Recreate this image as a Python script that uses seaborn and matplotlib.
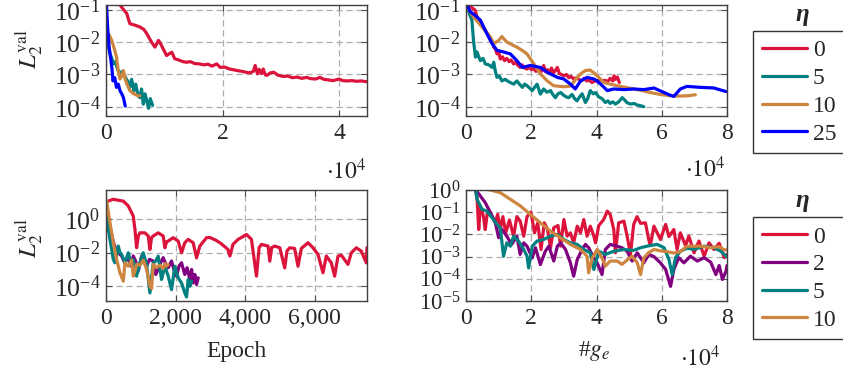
import matplotlib
matplotlib.use("Agg")
import matplotlib.pyplot as plt
from matplotlib.lines import Line2D
from matplotlib.ticker import LogLocator, NullLocator, FuncFormatter, NullFormatter
import pandas as pd
import seaborn as sns
import numpy as np

# ---- data: x in units of 1e4 (top row, bottom right) or epochs (bottom left),
# ---- y given as log10 of L2 validation loss
colors = {"0": "#DC143C", "2": "#800080", "5": "#008080", "10": "#CD853F", "25": "#0000FF"}

# top left (epochs, 1e4)
tl_x0 = [0.05, 0.24, 0.3, 0.355, 0.41, 0.5, 0.58, 0.65, 0.7, 0.78, 0.84, 0.9, 0.94, 0.98, 1.04, 1.09, 1.13, 1.18,
         1.25, 1.32, 1.38, 1.45, 1.52, 1.6, 1.68, 1.75, 1.82, 1.9, 1.96, 2.04, 2.12, 2.18, 2.26, 2.33, 2.4, 2.47, 2.53,
         2.56, 2.6, 2.63, 2.67, 2.7, 2.73, 2.76, 2.82, 2.88, 2.95, 3.04, 3.12, 3.2, 3.28, 3.36, 3.44, 3.52, 3.6, 3.67,
         3.74, 3.82, 3.9, 3.96, 4.0, 4.06, 4.14, 4.22, 4.3, 4.38, 4.45, 4.5]
tl_y0 = [-0.3, -0.84, -0.98, -1.1, -1.42, -1.47, -1.52, -1.6, -1.73, -1.99, -2.15, -1.94, -2.05, -2.2, -2.41, -2.35,
         -2.31, -2.51, -2.55, -2.6, -2.62, -2.6, -2.66, -2.67, -2.7, -2.68, -2.74, -2.67, -2.78, -2.77, -2.83, -2.85,
         -2.88, -2.9, -2.93, -2.95, -2.9, -2.72, -2.98, -2.84, -2.97, -2.83, -3.0, -3.03, -2.95, -2.93, -3.02, -3.06,
         -3.05, -3.1, -3.08, -3.12, -3.09, -3.13, -3.14, -3.09, -3.15, -3.17, -3.19, -3.16, -3.14, -3.19, -3.2, -3.19,
         -3.21, -3.2, -3.22, -3.22]
tl_x5 = [0.0, 0.03, 0.06, 0.1, 0.125, 0.16, 0.2, 0.24, 0.28, 0.33, 0.37, 0.41, 0.44, 0.48, 0.51, 0.55, 0.58, 0.61,
         0.64, 0.67, 0.7, 0.73, 0.76, 0.8]
tl_y5 = [-1.6, -2.0, -2.3, -2.5, -2.67, -2.6, -2.85, -2.98, -2.9, -3.08, -3.2, -3.4, -3.15, -3.5, -3.3, -3.65, -3.72,
         -3.45, -3.92, -3.6, -3.82, -4.05, -3.75, -3.96]
tl_x10 = [0.05, 0.1, 0.15, 0.18, 0.21, 0.24, 0.27, 0.3, 0.33, 0.36, 0.41, 0.46, 0.5, 0.55, 0.58]
tl_y10 = [-1.75, -1.95, -2.25, -2.45, -2.88, -3.14, -3.05, -2.88, -3.15, -3.3, -3.5, -3.58, -3.62, -3.66, -3.66]
tl_x25 = [0.0, 0.01, 0.03, 0.05, 0.08, 0.1, 0.12, 0.15, 0.18, 0.21, 0.24, 0.27, 0.3, 0.33]
tl_y25 = [-0.6, -0.9, -1.6, -2.1, -2.5, -2.78, -3.2, -3.1, -3.4, -3.3, -3.5, -3.6, -3.72, -3.98]

# top right (#g_e, 1e4)
tr_x0 = [0.0, 0.05, 0.15, 0.28, 0.36, 0.44, 0.52, 0.59, 0.67, 0.75, 0.8, 0.85, 0.9, 0.95, 1.0, 1.05, 1.12, 1.18,
         1.25, 1.32, 1.38, 1.46, 1.52, 1.58, 1.66, 1.72, 1.8, 1.87, 1.94, 2.0, 2.08, 2.14, 2.2, 2.26, 2.32, 2.38, 2.44,
         2.5, 2.56, 2.62, 2.68, 2.74, 2.8, 2.86, 2.93, 3.0, 3.08, 3.15, 3.22, 3.3, 3.38, 3.46, 3.54, 3.62, 3.7, 3.78,
         3.86, 3.94, 4.02, 4.1, 4.18, 4.26, 4.34, 4.42, 4.5, 4.54, 4.58, 4.64, 4.7]
tr_y0 = [-0.5, -0.84, -0.9, -1.0, -1.3, -1.42, -1.5, -1.63, -1.75, -1.94, -2.0, -2.15, -2.2, -2.36, -2.3, -2.52,
         -2.45, -2.57, -2.5, -2.6, -2.55, -2.67, -2.62, -2.7, -2.78, -2.7, -2.8, -2.83, -2.75, -2.85, -2.82, -2.9,
         -2.88, -2.8, -2.9, -2.72, -2.92, -2.85, -2.95, -2.8, -2.95, -2.88, -2.78, -2.97, -3.0, -3.04, -3.0, -3.1,
         -3.06, -3.14, -3.1, -3.15, -3.2, -3.12, -3.2, -3.18, -3.25, -3.2, -3.22, -3.15, -3.2, -3.18, -3.22, -3.12,
         -3.2, -3.04, -3.15, -3.08, -3.25]
tr_x5 = [0.0, 0.03, 0.1, 0.18, 0.23, 0.29, 0.34, 0.39, 0.44, 0.52, 0.59, 0.7, 0.8, 0.85, 0.9, 0.95, 1.02, 1.1, 1.2,
         1.3, 1.36, 1.46, 1.56, 1.64, 1.73, 1.8, 1.87, 1.95, 2.03, 2.1, 2.18, 2.28, 2.38, 2.48, 2.59, 2.66, 2.74,
         2.82, 2.9, 3.0, 3.08, 3.15, 3.25, 3.33, 3.4, 3.48, 3.56, 3.66, 3.73, 3.81, 3.9, 3.97, 4.07, 4.17, 4.27, 4.35,
         4.42, 4.5, 4.58, 4.68, 4.79, 4.87, 4.94, 5.05, 5.15, 5.25, 5.35, 5.45]
tr_y5 = [-0.7, -0.9, -1.1, -1.31, -1.94, -2.46, -2.3, -2.45, -2.57, -2.5, -2.67, -2.7, -2.78, -2.62, -2.9, -3.09,
         -3.05, -3.2, -3.15, -3.22, -3.25, -3.3, -3.2, -3.3, -3.4, -3.3, -3.35, -3.42, -3.5, -3.4, -3.3, -3.61, -3.45,
         -3.55, -3.5, -3.62, -3.72, -3.6, -3.56, -3.65, -3.7, -3.72, -3.62, -3.75, -3.82, -3.7, -3.6, -3.87, -3.75,
         -3.5, -3.6, -3.56, -3.7, -3.75, -3.87, -3.82, -3.9, -3.85, -3.92, -3.85, -3.72, -3.8, -3.88, -3.92, -3.9,
         -3.95, -3.97, -4.0]
tr_x10 = [0.0, 0.03, 0.23, 0.49, 0.75, 0.85, 1.0, 1.1, 1.25, 1.4, 1.56, 1.72, 1.87, 2.08, 2.28, 2.49, 2.69, 3.0,
          3.2, 3.41, 3.55, 3.66, 3.8, 3.92, 4.02, 4.23, 4.43, 4.63, 4.9, 5.14, 5.4, 5.65, 5.95, 6.27, 6.57, 6.8, 7.03]
tr_y10 = [-0.75, -0.9, -1.21, -1.52, -1.84, -2.04, -1.94, -1.82, -1.99, -2.07, -2.15, -2.25, -2.36, -2.67, -2.98,
          -3.2, -3.35, -3.38, -3.36, -3.09, -2.95, -2.88, -2.86, -2.95, -3.04, -3.25, -3.3, -3.35, -3.4, -3.45, -3.5,
          -3.56, -3.62, -3.66, -3.67, -3.66, -3.63]
tr_x25 = [0.0, 0.03, 0.13, 0.28, 0.44, 0.64, 0.8, 0.95, 1.15, 1.36, 1.56, 1.73, 1.97, 2.28, 2.49, 2.8, 3.0, 3.2,
          3.35, 3.51, 3.71, 3.92, 4.02, 4.18, 4.33, 4.53, 4.84, 5.14, 5.45, 5.76, 6.07, 6.25, 6.37, 6.57, 6.77, 7.19,
          7.6, 7.97]
tr_y25 = [-0.7, -0.84, -1.05, -1.16, -1.31, -1.73, -2.04, -2.25, -2.3, -2.36, -2.57, -2.78, -2.72, -2.78, -2.93,
          -3.09, -3.14, -3.3, -3.45, -3.2, -3.09, -3.14, -3.2, -3.35, -3.5, -3.45, -3.47, -3.45, -3.47, -3.42, -3.56,
          -3.64, -3.68, -3.45, -3.37, -3.4, -3.42, -3.53]

# bottom left (epochs)
bl_x0 = [0, 66, 210, 350, 496, 640, 783, 832, 880, 930, 975, 1118, 1214, 1262, 1310, 1357, 1500, 1644, 1692, 1740,
         1787, 1931, 2074, 2172, 2265, 2361, 2505, 2602, 2696, 2888, 2984, 3150, 3300, 3500, 3560, 3650, 3797, 4037,
         4180, 4324, 4400, 4467, 4658, 4706, 4760, 4850, 4994, 5136, 5200, 5280, 5420, 5518, 5613, 5805, 5948, 6092,
         6235, 6331, 6474, 6571, 6666, 6762, 6953, 7049, 7193, 7336, 7480, 7500]
bl_y0 = [1.0, 1.07, 1.18, 1.12, 1.07, 0.78, 0.18, -0.62, -1.71, -1.0, -0.82, -0.82, -1.01, -1.81, -1.1, -1.01,
         -0.82, -1.01, -1.71, -1.35, -1.31, -1.11, -1.31, -2.01, -1.41, -1.21, -1.41, -2.31, -1.61, -1.11, -1.1, -1.25,
         -1.45, -1.8, -2.2, -1.5, -1.21, -0.92, -1.21, -3.4, -1.7, -1.51, -1.61, -2.51, -1.7, -1.61, -1.71, -2.91,
         -1.9, -1.71, -1.75, -2.81, -1.75, -1.41, -1.71, -2.11, -3.2, -2.2, -2.61, -3.4, -2.21, -2.15, -2.7, -2.01,
         -1.71, -1.91, -2.61, -1.7]
bl_x2 = [0, 100, 200, 300, 449, 540, 640, 720, 783, 850, 927, 1023, 1100, 1166, 1250, 1357, 1430, 1500, 1570, 1644,
         1720, 1787, 1883, 1950, 2026, 2100, 2170, 2265, 2330, 2409, 2460, 2505, 2553, 2600, 2650]
bl_y2 = [0.9, -0.3, -1.3, -1.9, -2.2, -2.6, -2.3, -2.8, -2.2, -2.5, -3.1, -2.2, -2.6, -2.8, -2.4, -2.5, -3.3, -3.0,
         -2.6, -2.3, -2.7, -2.9, -2.5, -3.0, -3.4, -2.8, -2.6, -3.3, -2.9, -3.6, -3.0, -3.8, -3.3, -3.9, -3.5]
bl_x5 = [0, 20, 115, 210, 258, 300, 353, 400, 449, 545, 640, 720, 783, 879, 975, 1070, 1166, 1262, 1357, 1430, 1500,
         1596, 1692, 1787, 1883, 1978, 2074, 2170, 2265, 2315, 2361, 2410, 2457]
bl_y5 = [0.3, 0.0, -1.21, -2.41, -2.6, -2.2, -1.61, -2.0, -2.1, -2.6, -2.01, -2.6, -2.41, -3.4, -2.6, -2.01, -2.7,
         -4.4, -2.6, -2.5, -2.21, -3.6, -2.81, -3.4, -4.2, -2.81, -3.5, -3.8, -4.4, -4.64, -3.6, -4.0, -3.7]
bl_x10 = [0, 20, 115, 210, 306, 402, 497, 545, 640, 736, 783, 832, 879, 975, 1070, 1166, 1262, 1310, 1357, 1450,
          1500, 1549, 1644, 1693, 1740, 1790]
bl_y10 = [1.1, 1.07, -0.22, -1.41, -2.41, -3.2, -3.7, -2.6, -2.81, -2.45, -3.4, -3.1, -2.7, -2.75, -2.45, -3.0, -4.0,
          -4.14, -2.7, -2.9, -2.81, -2.75, -2.95, -2.65, -2.81, -2.7]

# bottom right (#g_e, 1e4)
br_x0 = [0.29, 0.34, 0.39, 0.44, 0.49, 0.54, 0.59, 0.66, 0.72, 0.8, 0.9, 0.97, 1.05, 1.13, 1.22, 1.33, 1.46, 1.56,
         1.66, 1.77, 1.87, 1.99, 2.1, 2.2, 2.3, 2.4, 2.5, 2.59, 2.69, 2.82, 2.9, 3.0, 3.1, 3.2, 3.3, 3.41, 3.51, 3.61,
         3.71, 3.81, 3.92, 3.97, 4.07, 4.22, 4.33, 4.42, 4.53, 4.58, 4.68, 4.84, 4.94, 5.04, 5.14, 5.24, 5.35, 5.5,
         5.6, 5.65, 5.76, 5.96, 6.12, 6.22, 6.37, 6.47, 6.57, 6.73, 6.83, 6.99, 7.14, 7.3, 7.45, 7.6, 7.76, 7.92, 8.0]
br_y0 = [0.0, -0.4, -1.78, -0.72, -0.9, -1.25, -1.78, -0.95, -1.1, -1.2, -1.48, -1.1, -1.78, -1.2, -1.93, -1.35,
         -2.08, -1.2, -1.4, -2.08, -1.2, -1.0, -1.93, -1.48, -2.68, -1.48, -1.78, -2.6, -1.7, -1.6, -2.53, -1.33,
         -2.08, -1.93, -2.38, -1.63, -1.93, -1.33, -2.08, -1.63, -2.08, -2.38, -1.6, -1.33, -0.95, -1.1, -1.78, -2.83,
         -1.48, -1.4, -2.08, -2.9, -1.55, -1.2, -1.5, -1.48, -2.23, -2.5, -1.63, -2.23, -1.55, -2.1, -1.78, -2.68,
         -1.93, -2.5, -2.08, -2.83, -2.3, -2.98, -2.38, -2.68, -2.4, -3.05, -2.9]
br_x2 = [0.3, 0.44, 0.59, 0.75, 0.9, 1.0, 1.1, 1.25, 1.4, 1.56, 1.66, 1.77, 1.87, 2.03, 2.13, 2.28, 2.43, 2.54,
         2.69, 2.8, 2.9, 3.05, 3.2, 3.3, 3.41, 3.56, 3.66, 3.76, 3.86, 4.02, 4.17, 4.27, 4.42, 4.63, 4.78, 4.94, 5.09,
         5.25, 5.45, 5.6, 5.76, 5.96, 6.12, 6.27, 6.37, 6.52, 6.68, 6.88, 7.09, 7.3, 7.5, 7.66, 7.76, 7.86, 7.97, 8.0]
br_y2 = [0.0, -0.27, -0.57, -1.02, -1.48, -2.15, -1.78, -2.08, -2.45, -2.08, -2.9, -2.38, -2.53, -3.06, -2.6, -3.36,
         -2.76, -2.53, -3.2, -2.53, -2.38, -2.68, -3.28, -3.88, -3.13, -2.68, -2.45, -2.6, -2.9, -3.28, -3.81, -2.68,
         -2.45, -2.53, -2.6, -2.76, -3.2, -2.83, -3.28, -2.9, -3.0, -3.28, -3.58, -4.34, -3.58, -3.05, -3.28, -2.98,
         -3.2, -3.05, -3.25, -3.81, -3.4, -4.03, -3.66, -3.4]
br_x5 = [0.29, 0.34, 0.49, 0.64, 0.8, 0.95, 1.05, 1.15, 1.25, 1.36, 1.46, 1.61, 1.77, 1.87, 1.92, 2.03, 2.18, 2.38,
         2.59, 2.8, 3.0, 3.2, 3.41, 3.61, 3.81, 3.92, 4.07, 4.27, 4.53, 4.84, 5.14, 5.35, 5.55, 5.86, 6.07, 6.22, 6.32,
         6.42, 6.57, 6.78, 6.99, 7.3, 7.6, 7.81, 7.97, 8.0]
br_y5 = [0.05, -0.42, -0.87, -0.95, -1.25, -1.55, -1.7, -2.98, -2.38, -2.53, -2.08, -2.3, -2.68, -2.98, -3.51, -2.53,
         -2.3, -2.23, -2.08, -2.0, -2.23, -2.38, -2.45, -2.68, -2.83, -3.58, -2.76, -2.9, -2.76, -2.68, -2.72, -2.6,
         -2.53, -2.45, -2.6, -3.13, -3.81, -3.05, -2.76, -2.62, -2.68, -2.53, -2.6, -2.76, -2.98, -3.0]
br_x10 = [0.4, 0.75, 1.05, 1.36, 1.67, 1.97, 2.28, 2.59, 2.89, 3.2, 3.51, 3.71, 3.76, 3.86, 4.02, 4.17, 4.27, 4.42,
          4.63, 4.78, 4.94, 5.09, 5.25, 5.35, 5.45, 5.6, 5.76, 5.96, 6.17, 6.37, 6.57, 6.77, 7.19, 7.5, 7.76, 7.9, 8.0]
br_y10 = [0.08, 0.0, -0.12, -0.42, -0.72, -1.1, -1.48, -1.85, -2.15, -2.45, -2.68, -2.98, -3.73, -3.1, -2.68, -3.06,
          -3.43, -3.2, -3.2, -3.35, -3.15, -2.98, -3.28, -3.81, -3.06, -2.82, -2.68, -2.74, -2.78, -2.84, -2.78, -2.53,
          -2.53, -2.6, -2.55, -2.68, -2.71]

sns.set_theme(style="ticks")
plt.rcParams["font.family"] = ["Liberation Serif", "DejaVu Serif"]
plt.rcParams["mathtext.fontset"] = "stix"
FS = 17

W, H = 843, 373
fig = plt.figure(figsize=(W / 100, H / 100), dpi=100)


def box(l, t, r, b):
    return [l / W, 1 - b / H, (r - l) / W, (b - t) / H]


def draw(ax, series, ysize):
    frames = [pd.DataFrame({"x": xs, "loss": np.power(10.0, ys), "eta": eta}) for eta, xs, ys in series]
    df = pd.concat(frames, ignore_index=True)
    order = [s[0] for s in series]
    sns.lineplot(data=df, x="x", y="loss", hue="eta", hue_order=order, palette=colors,
                 estimator=None, sort=False, legend=False, lw=2.3, ax=ax)
    ax.set_yscale("log")
    ax.set_xlabel("")
    ax.set_ylabel("")
    ax.grid(True, which="major", ls=(0, (5, 3)), color="0.68", lw=0.9)
    ax.tick_params(which="both", direction="in", top=True, right=True, labelsize=FS, pad=5)
    ax.tick_params(axis="y", labelsize=ysize, pad=4)
    ax.tick_params(which="major", length=4, width=0.8, color="0.3")
    ax.tick_params(which="minor", length=4, width=0.8, color="0.6")
    for s in ax.spines.values():
        s.set_color("0.25")
        s.set_linewidth(1.0)


ax_tl = fig.add_axes(box(106, 5, 367, 116))
ax_tr = fig.add_axes(box(466, 5, 727, 116))
ax_bl = fig.add_axes(box(106, 190, 367, 301))
ax_br = fig.add_axes(box(466, 190, 727, 301))

draw(ax_tl, [("0", tl_x0, tl_y0), ("5", tl_x5, tl_y5), ("10", tl_x10, tl_y10), ("25", tl_x25, tl_y25)], FS + 1.5)
draw(ax_tr, [("0", tr_x0, tr_y0), ("5", tr_x5, tr_y5), ("10", tr_x10, tr_y10), ("25", tr_x25, tr_y25)], FS + 1.5)
draw(ax_bl, [("0", bl_x0, bl_y0), ("2", bl_x2, bl_y2), ("5", bl_x5, bl_y5), ("10", bl_x10, bl_y10)], FS + 1.5)
draw(ax_br, [("0", br_x0, br_y0), ("2", br_x2, br_y2), ("5", br_x5, br_y5), ("10", br_x10, br_y10)], FS - 0.5)

minor = LogLocator(base=10, subs=np.arange(2, 10))
for ax in (ax_tl, ax_tr):
    ax.set_ylim(10 ** -4.29, 10 ** -0.84)
    ax.set_yticks([1e-4, 1e-3, 1e-2, 1e-1])
    ax.yaxis.set_minor_locator(minor)
    ax.yaxis.set_minor_formatter(NullFormatter())
ax_tl.set_xlim(0, 4.48)
ax_tl.set_xticks([0, 2, 4])
ax_tr.set_xlim(0, 8)
ax_tr.set_xticks([0, 2, 4, 6, 8])

ax_bl.set_xlim(0, 7500)
ax_bl.set_xticks([0, 2000, 4000, 6000])
ax_bl.xaxis.set_major_formatter(FuncFormatter(lambda v, p: f"{v:,.0f}"))
ax_bl.set_ylim(10 ** -4.88, 10 ** 1.73)
ax_bl.set_yticks([1e-4, 1e-2, 1e0])
ax_bl.yaxis.set_minor_locator(NullLocator())

ax_br.set_xlim(0, 8)
ax_br.set_xticks([0, 2, 4, 6, 8])
ax_br.set_ylim(1e-5, 1e0)
ax_br.set_yticks([1e-5, 1e-4, 1e-3, 1e-2, 1e-1, 1e0])
ax_br.yaxis.set_minor_locator(LogLocator(base=10, subs=np.arange(2, 10)))
ax_br.yaxis.set_minor_formatter(NullFormatter())

for ax in (ax_tl, ax_tr, ax_br):
    ax.xaxis.set_major_formatter(FuncFormatter(lambda v, p: f"{v:g}"))

# axis labels
ylab = r"$L_2^{\mathrm{val}}$"
fig.text(29 / W, 1 - 49 / H, ylab, rotation=90, ha="center", va="center", fontsize=FS + 1)
fig.text(29 / W, 1 - 238 / H, ylab, rotation=90, ha="center", va="center", fontsize=FS + 1)
fig.text(236 / W, 1 - 352 / H, "Epoch", ha="center", va="center", fontsize=FS)
fig.text(594 / W, 1 - 351 / H, r"#$g_e$", ha="center", va="center", fontsize=FS)
fig.text(367 / W, 1 - 171 / H, r"$\cdot10^4$", ha="right", va="center", fontsize=FS)
fig.text(726 / W, 1 - 169 / H, r"$\cdot10^4$", ha="right", va="center", fontsize=FS)
fig.text(721 / W, 1 - 358 / H, r"$\cdot10^4$", ha="right", va="center", fontsize=FS)

# legends
for etas, top, ttl in ((["0", "5", "10", "25"], 31, 15), (["0", "2", "5", "10"], 217, 200)):
    handles = [Line2D([], [], color=colors[e], lw=2.3) for e in etas]
    leg = fig.legend(handles, etas, loc="upper left", bbox_to_anchor=(753 / W, 1 - top / H),
                     frameon=True, fancybox=False, edgecolor="black", fontsize=FS,
                     handlelength=1.9, handletextpad=0.25, labelspacing=0.26, borderpad=0.38,
                     borderaxespad=0)
    leg.get_frame().set_linewidth(1.0)
    fig.text(802 / W, 1 - ttl / H, "η", ha="center", va="center", fontsize=FS + 1,
             fontstyle="italic", fontweight="bold")

fig.savefig("out.png", dpi=100)
